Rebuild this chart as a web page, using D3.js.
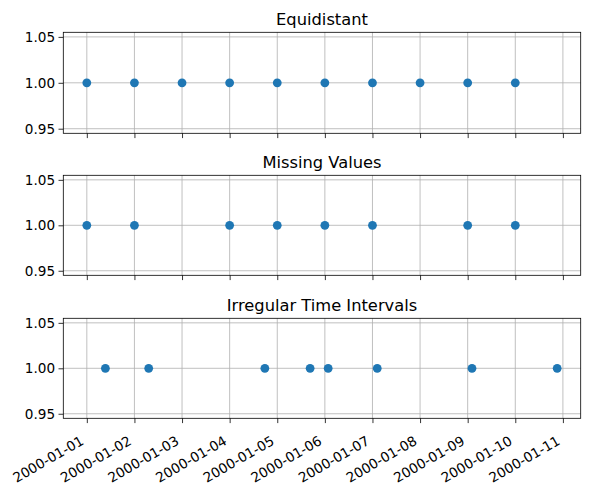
<!DOCTYPE html>
<html><head><meta charset="utf-8">
<script src="https://cdn.jsdelivr.net/npm/d3@7"></script>
<style>body{margin:0;background:#fff}svg{display:block}text{font-family:"DejaVu Sans",sans-serif;fill:#000}</style>
</head><body>
<script>
const titles = ["Equidistant", "Missing Values", "Irregular Time Intervals"];
const equidistantDates = ["2000-01-01","2000-01-02","2000-01-03","2000-01-04","2000-01-05","2000-01-06","2000-01-07","2000-01-08","2000-01-09","2000-01-10"];
const missingDates = ["2000-01-01","2000-01-02","2000-01-04","2000-01-05","2000-01-06","2000-01-07","2000-01-09","2000-01-10"];
const irregularDates = ["2000-01-01T09:22","2000-01-02T07:12","2000-01-04T17:45","2000-01-05T16:34","2000-01-06T01:40","2000-01-07T02:24","2000-01-09T02:10","2000-01-10T21:07"];
const values = [1,1,1,1,1,1,1,1,1,1];
const xTickLabels = ["2000-01-01","2000-01-02","2000-01-03","2000-01-04","2000-01-05","2000-01-06","2000-01-07","2000-01-08","2000-01-09","2000-01-10","2000-01-11"];
const yTicks = [0.95, 1.00, 1.05];

const W = 589, H = 490;
const parse = s => new Date(s.length > 10 ? s + ":00Z" : s + "T00:00:00Z");
const series = [equidistantDates, missingDates, irregularDates];
const allT = series.flat().map(d => +parse(d));
const tMin = d3.min(allT), tMax = d3.max(allT), pad = (tMax - tMin) * 0.05;

const left = 63.3, right = 580.7;
const panels = [{top: 32.3, bottom: 133.3}, {top: 175.3, bottom: 275.3}, {top: 318.3, bottom: 418.3}];

const x = d3.scaleUtc().domain([new Date(tMin - pad), new Date(tMax + pad)]).range([left, right]);
const svg = d3.select("body").append("svg").attr("width", W).attr("height", H);

panels.forEach((p, i) => {
  const y = d3.scaleLinear().domain([0.945, 1.055]).range([p.bottom, p.top]);
  const g = svg.append("g");
  g.selectAll(".gx").data(xTickLabels).join("line")
    .attr("x1", d => x(parse(d))).attr("x2", d => x(parse(d)))
    .attr("y1", p.top).attr("y2", p.bottom)
    .attr("stroke", "#b0b0b0").attr("stroke-width", 0.8);
  g.selectAll(".gy").data(yTicks).join("line")
    .attr("x1", left).attr("x2", right)
    .attr("y1", d => y(d)).attr("y2", d => y(d))
    .attr("stroke", "#b0b0b0").attr("stroke-width", 0.8);
  g.selectAll("circle").data(series[i]).join("circle")
    .attr("cx", d => x(parse(d))).attr("cy", (d, j) => y(values[j]))
    .attr("r", 4.4).attr("fill", "#1f77b4");
  g.append("rect").attr("x", left).attr("y", p.top).attr("width", right - left).attr("height", p.bottom - p.top)
    .attr("fill", "none").attr("stroke", "#000").attr("stroke-width", 0.8);
  const ya = d3.axisLeft(y).tickValues(yTicks).tickFormat(d3.format(".2f")).tickSize(4.8).tickPadding(3.4);
  const yg = svg.append("g").attr("transform", `translate(${left},0)`).call(ya);
  yg.select(".domain").remove();
  yg.selectAll(".tick line").attr("stroke-width", 0.8);
  yg.selectAll("text").attr("font-size", "13.6px").attr("font-family", "DejaVu Sans").attr("fill", "#000");
  const xa = d3.axisBottom(x).tickValues(xTickLabels.map(parse)).tickSize(4.8).tickPadding(3.4)
    .tickFormat(i === 2 ? d3.utcFormat("%Y-%m-%d") : () => "");
  const xg = svg.append("g").attr("transform", `translate(0,${p.bottom})`).call(xa);
  xg.select(".domain").remove();
  xg.selectAll(".tick line").attr("stroke-width", 0.8);
  if (i === 2) {
    xg.selectAll(".tick text").each(function() {
      const t = d3.select(this);
      t.attr("font-size", "13.6px").attr("font-family", "DejaVu Sans").attr("fill", "#000")
        .attr("text-anchor", "end").attr("dy", null).attr("y", 0).attr("x", 0)
        .attr("transform", "rotate(-30)");
      const tickG = this.parentNode;
      const tr = this.getBoundingClientRect();
      const tickX = x(d3.select(tickG).datum());
      const targetRight = tickX - 0.5, targetTop = p.bottom + 14;
      const dx = targetRight - tr.right, dy = targetTop - tr.top;
      t.attr("transform", `translate(${dx},${dy}) rotate(-30)`);
    });
  }
  svg.append("text").attr("x", (left + right) / 2).attr("y", p.top - 7)
    .attr("text-anchor", "middle").attr("font-size", "16.3px").text(titles[i]);
});
</script>
</body></html>
